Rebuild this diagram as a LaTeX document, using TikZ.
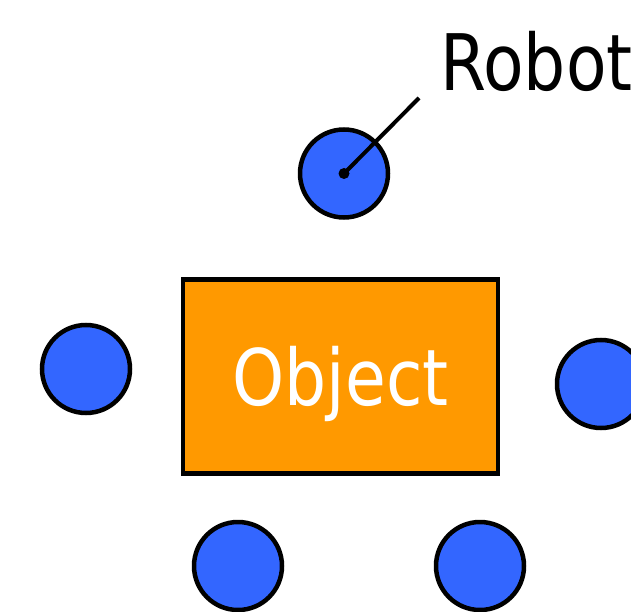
\documentclass[tikz,border=0pt]{standalone}
\usepackage{fontspec}
\setmainfont{DejaVu Sans}[FakeStretch=0.85]
\definecolor{robotblue}{HTML}{3366FF}
\definecolor{objorange}{HTML}{FF9900}
\begin{document}
\begin{tikzpicture}[x=1pt,y=-1pt,
  robot/.style={circle,draw=black,line width=4.5pt,fill=robotblue,
    minimum size=88pt,inner sep=0pt},
  objectbox/.style={rectangle,draw=black,line width=4.5pt,fill=objorange,
    minimum width=315pt,minimum height=194pt,inner sep=0pt},
  bigtext/.style={font=\fontsize{78}{90}\selectfont,inner sep=0pt}]
\useasboundingbox (0,0) rectangle (631,612);
\clip (0,0) rectangle (631,612);
% the object to be carried
\node[objectbox] (obj) at (340.5,376.5) {};
\node[bigtext,text=white,anchor=base] (objlabel) at (340.5,405) {Object};
% robots around it
\node[robot] (r1) at (344,173.5) {};
\node[robot] (r2) at (86,369) {};
\node[robot] (r3) at (601,384) {};
\node[robot] (r4) at (238,566) {};
\node[robot] (r5) at (480,566) {};
% label with leader line to the top robot
\node[bigtext,anchor=base west] (lbl) at (440,91) {Robot};
\coordinate (lead) at (419,98);
\fill (r1.center) circle (5.5pt);
\draw[line width=4pt] (r1.center) -- (lead);
\end{tikzpicture}
\end{document}
